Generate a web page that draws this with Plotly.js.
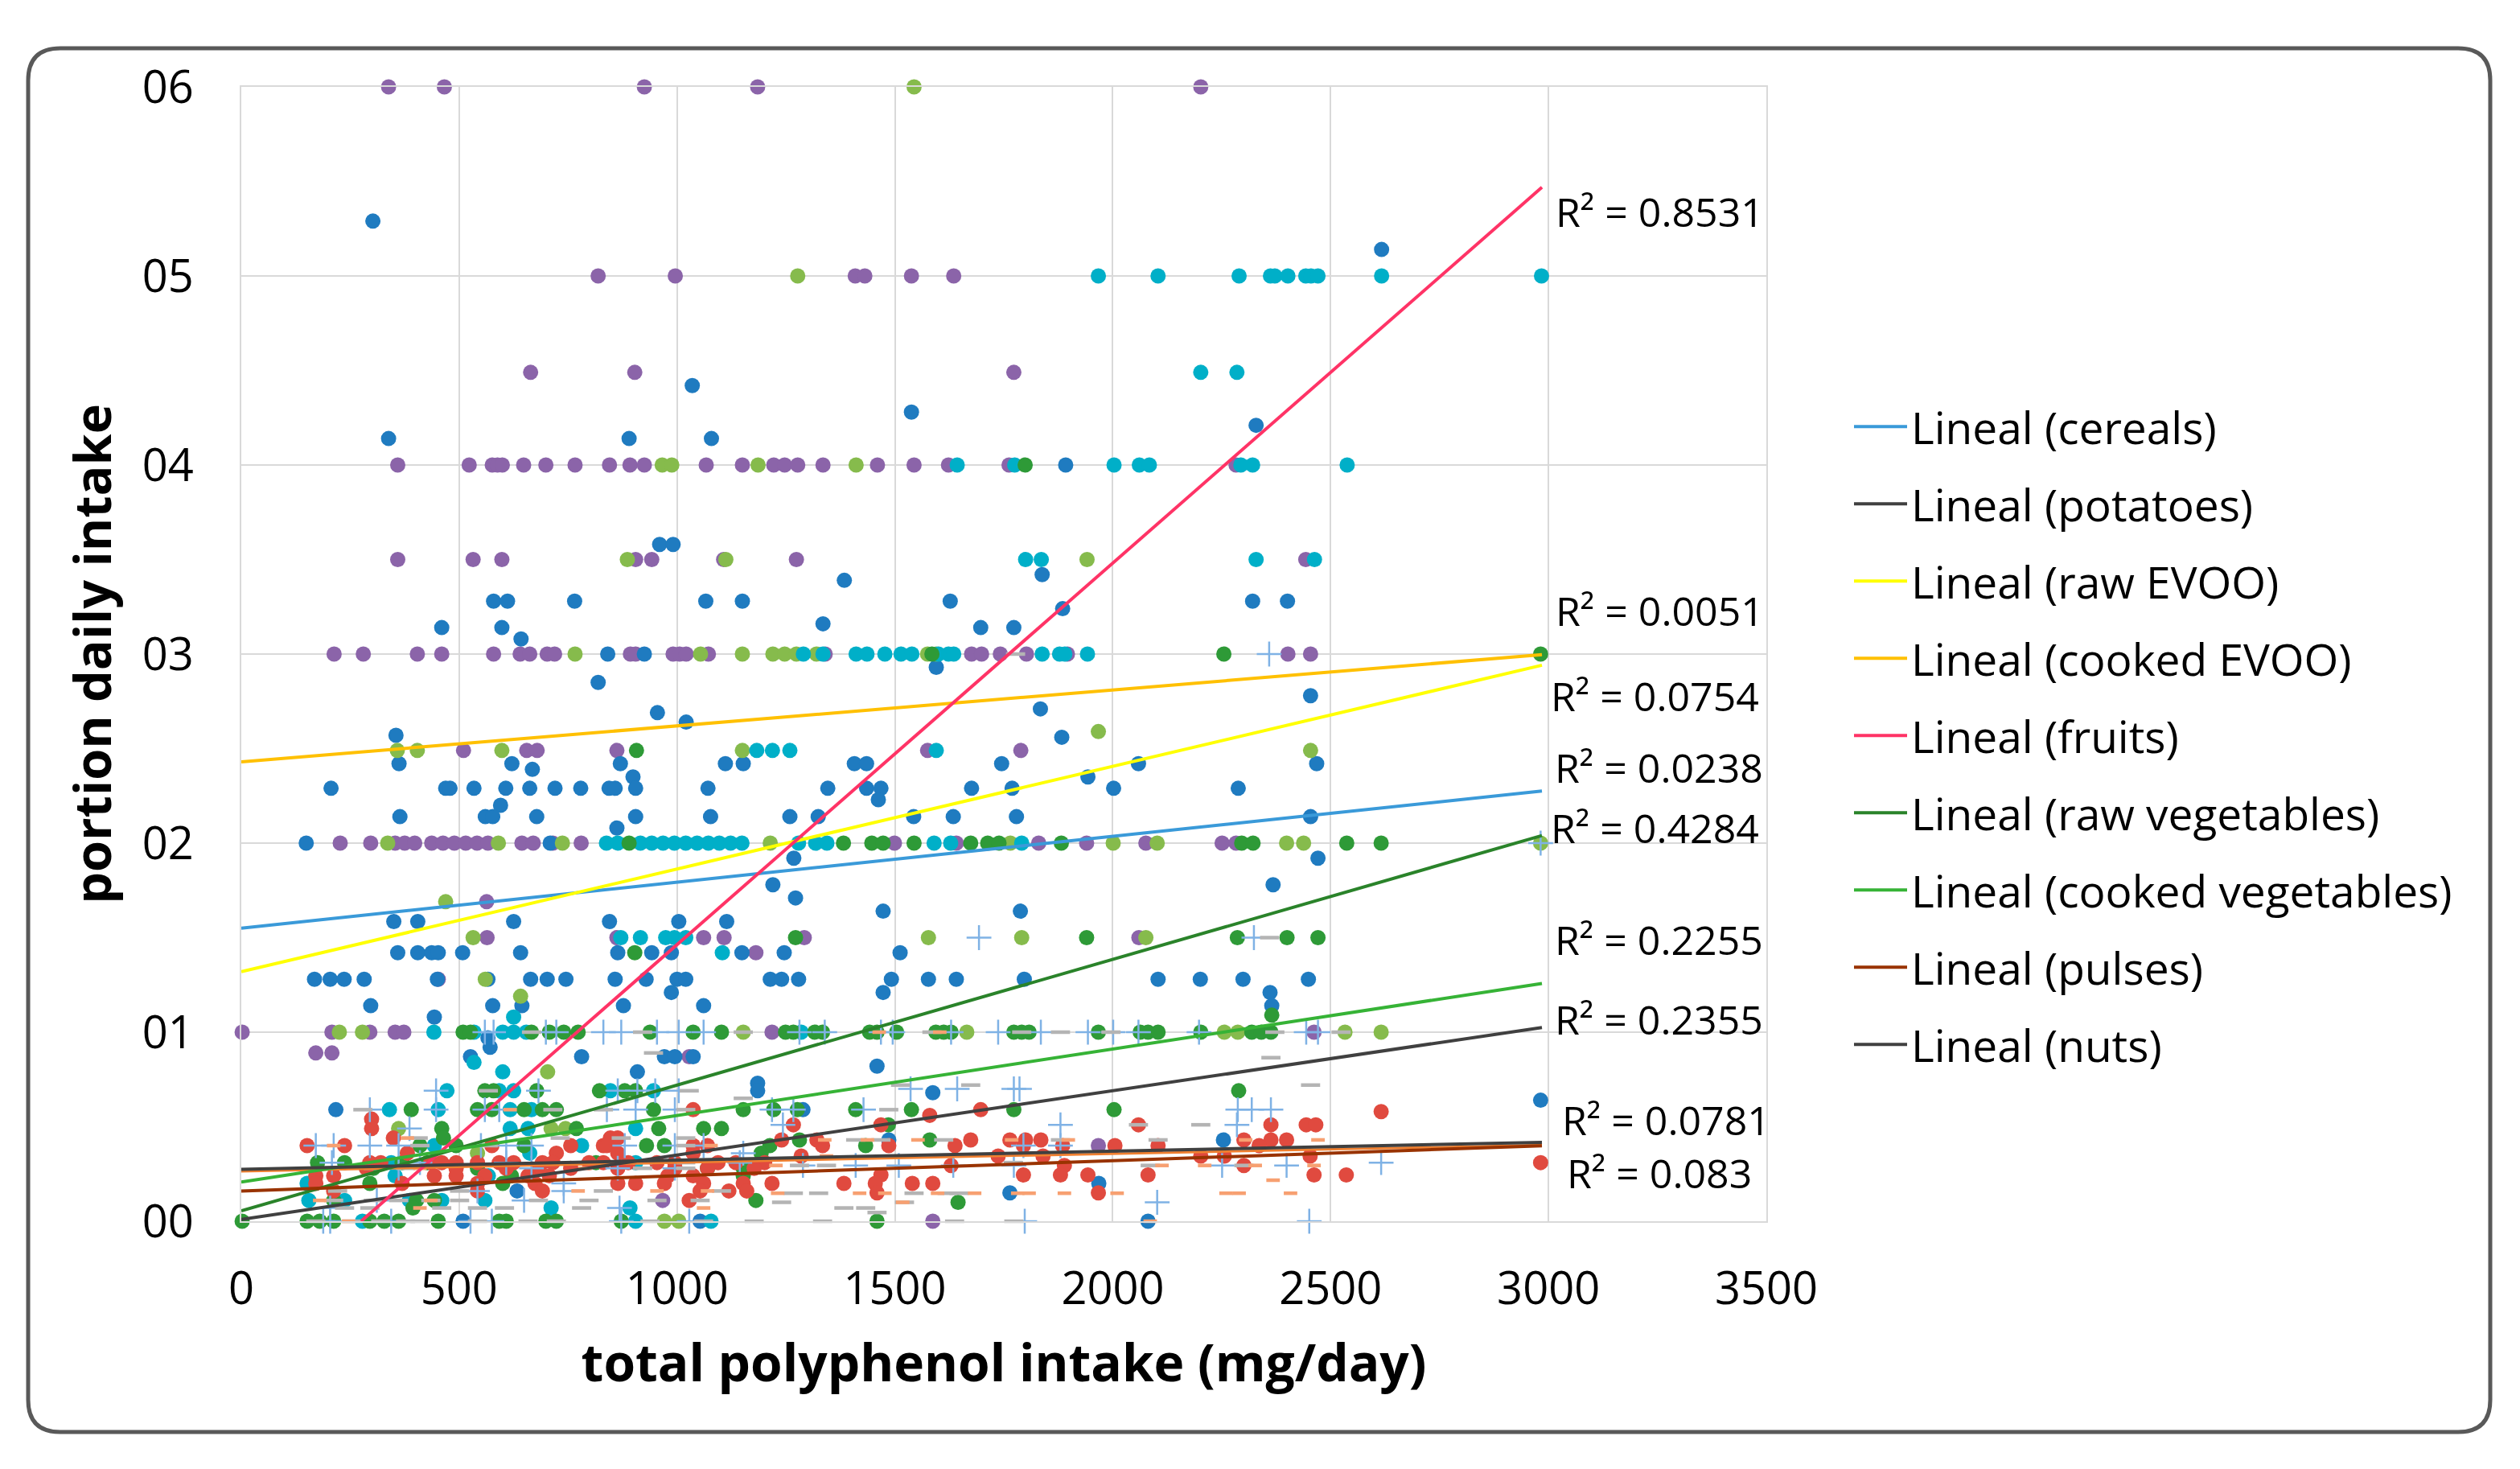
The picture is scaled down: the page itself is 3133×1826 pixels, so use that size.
<!DOCTYPE html>
<html>
<head>
<meta charset="utf-8">
<script src="https://cdn.plot.ly/plotly-3.0.1.min.js"></script>
<style>
  body { margin: 0; background: #fff; }
  #chart { width: 3133px; height: 1826px; }
</style>
</head>
<body>
<div id="chart"></div>
<script>
// each row: [portion value, [polyphenol intake values of the points on that row]]
var cerealRows = [
  [5.29, [302]], [5.14, [2617]], [4.42, [1035]], [4.28, [1538]], [4.21, [2329]],
  [4.14, [338, 890, 1079]], [4.0, [1892]], [3.58, [960, 991]], [3.42, [1838]], [3.39, [1384]],
  [3.28, [579, 611, 765, 1066, 1150, 1627, 2321, 2401]], [3.24, [1885]], [3.16, [1335]],
  [3.14, [460, 598, 1697, 1773]], [3.08, [642]], [3.0, [841, 925]], [2.93, [1595]], [2.85, [819]],
  [2.78, [2454]], [2.71, [1834]], [2.69, [955]], [2.64, [1021]], [2.57, [355]], [2.56, [1883]],
  [2.42, [362, 621, 870, 1111, 1152, 1407, 1435, 1745, 2059, 2468]], [2.39, [668]], [2.35, [899, 1943]],
  [2.29, [206, 469, 479, 534, 607, 662, 720, 779, 844, 858, 905, 1071, 1346, 1435, 1468, 1676, 1769, 2002, 2288]],
  [2.23, [1462]], [2.2, [595]],
  [2.14, [364, 560, 577, 678, 905, 1077, 1259, 1324, 1543, 1634, 1779, 2454]], [2.08, [862]],
  [2.0, [149, 709]], [1.92, [1268, 2471]], [1.78, [1220, 2368]], [1.71, [1272]], [1.64, [1473, 1788]],
  [1.585, [350, 405, 625, 845, 1004, 1114]],
  [1.42, [359, 405, 437, 452, 508, 641, 864, 942, 987, 1149, 1246, 1512]],
  [1.28, [168, 204, 236, 282, 450, 566, 664, 702, 745, 858, 929, 1000, 1020, 1214, 1240, 1279, 1492, 1577, 1641, 1797, 2104, 2201, 2299, 2449]],
  [1.21, [987, 1473, 2361]], [1.14, [297, 577, 644, 877, 1061, 2365]], [1.08, [443]],
  [0.97, [566]], [0.92, [571]], [0.87, [526, 781, 971, 995, 1037]], [0.82, [1459]], [0.79, [909]],
  [0.73, [1185]], [0.69, [1185]], [0.68, [1587]], [0.64, [2982]], [0.59, [217, 1289]],
  [0.43, [1486, 2254]], [0.2, [1968]], [0.16, [633]], [0.15, [1764]], [0, [509, 1053, 2081]]
];

var purpleRows = [
  [6, [338, 466, 925, 1185, 2202]], [5, [819, 996, 1409, 1431, 1538, 1635]], [4.49, [664, 903, 1773]],
  [4, [359, 523, 576, 588, 599, 648, 699, 766, 845, 892, 925, 1067, 1150, 1222, 1247, 1277, 1335, 1460, 1544, 1623, 1762, 2283]],
  [3.5, [359, 532, 598, 905, 942, 1107, 1274, 2443]],
  [3, [213, 280, 404, 460, 579, 640, 662, 702, 719, 893, 905, 991, 1006, 1021, 1072, 1340, 1676, 1699, 1742, 1802, 1896, 2402, 2454]],
  [2.49, [510, 655, 679, 862, 1575, 1789]],
  [2, [227, 297, 353, 375, 398, 437, 463, 489, 515, 541, 566, 644, 670, 715, 780, 1499, 1641, 1830, 1940, 2076, 2251, 2283]],
  [1.69, [563]], [1.5, [564, 862, 1061, 1108, 1292, 2060]], [1.42, [1181]], [1.28, [452]],
  [1, [2, 208, 295, 353, 373, 1218, 2462]], [0.89, [171, 208]], [0.87, [1028]],
  [0.4, [1967]], [0.11, [967]], [0, [1587]]
];

var cyanRows = [
  [5, [1967, 2104, 2290, 2362, 2372, 2402, 2443, 2455, 2471, 2617, 2984]], [4.49, [2202, 2285]],
  [4, [1643, 1775, 2003, 2061, 2084, 2294, 2321, 2538]], [3.5, [1800, 1836, 2329, 2463]],
  [3, [1290, 1335, 1411, 1436, 1477, 1514, 1539, 1600, 1623, 1635, 1838, 1878, 1890, 1942]],
  [2.49, [1183, 1219, 1259, 1595]],
  [2, [838, 864, 916, 942, 968, 994, 1020, 1046, 1072, 1097, 1123, 1149, 1279, 1318, 1344, 1590, 1628, 1791]],
  [1.5, [871, 916, 974, 994, 1020]], [1.42, [1104]], [1.08, [625]],
  [1, [442, 534, 600, 625, 654, 1285]], [0.84, [534]], [0.79, [600]],
  [0.69, [472, 592, 625, 847, 946]], [0.59, [340, 452, 617, 666]], [0.49, [617, 658, 905]],
  [0.4, [443, 781]], [0.36, [662]], [0.31, [344, 905]], [0.24, [353, 567]], [0.2, [151]],
  [0.11, [155, 237, 386, 460, 559]], [0.07, [711, 892]], [0, [278, 905, 1078]]
];

var lightGreenRows = [
  [6, [1544]], [5, [1277]], [4, [966, 988, 1186, 1411]], [3.5, [886, 1112, 1941]],
  [3, [766, 1054, 1150, 1220, 1247, 1274, 1320, 1575, 1595]], [2.59, [1967]],
  [2.49, [358, 404, 598, 1150, 2454]],
  [2, [336, 590, 737, 1214, 1765, 2001, 2102, 2399, 2438, 2982]],
  [1.69, [469]], [1.5, [532, 1577, 1791, 2076]], [1.28, [560]], [1.19, [641]],
  [1, [225, 278, 1152, 1665, 2256, 2287, 2533, 2616]], [0.79, [703]],
  [0.49, [361, 711, 744]], [0.36, [542]], [0, [971, 1004]]
];

var darkGreenRows = [
  [4, [1799]], [3, [1585, 2255, 2982]], [2.49, [907]],
  [2, [890, 1382, 1447, 1473, 1544, 1674, 1713, 1739, 1882, 2296, 2322, 2537, 2616]],
  [1.5, [1272, 1940, 2286, 2400, 2471]], [1.42, [903]], [1.09, [2365]],
  [1, [509, 526, 666, 707, 740, 773, 938, 1037, 1102, 1249, 1267, 1316, 1334, 1442, 1459, 1504, 1594, 1612, 1629, 1773, 1791, 1808, 1967, 2063, 2081, 2104, 2202, 2319, 2341, 2363]],
  [0.69, [559, 579, 678, 822, 880, 905, 2289]],
  [0.59, [390, 542, 575, 649, 691, 723, 946, 1152, 1222, 1276, 1410, 1538, 1773, 2003]],
  [0.51, [1485]], [0.49, [460, 769, 958, 1061, 1102]], [0.44, [464]], [0.43, [1281, 1580]],
  [0.4, [410, 493, 649, 930, 971, 1213, 1433]], [0.36, [1193]], [0.31, [175, 237, 369, 427, 814]],
  [0.28, [303, 542, 1070, 1152]], [0.24, [620, 1152]], [0.2, [295, 600]],
  [0.11, [212, 402, 443, 1181]], [0.1, [1645]], [0.07, [394]],
  [0, [2, 151, 180, 212, 295, 328, 361, 452, 592, 608, 699, 723, 872, 1459]]
];

var redRows = [
  [0.59, [1037, 1697]], [0.58, [2616]], [0.56, [1580]], [0.54, [299]],
  [0.51, [1267, 1468, 2059, 2363, 2444, 2466]], [0.49, [299]], [0.44, [349, 847, 864]],
  [0.43, [1240, 1321, 1674, 1764, 1800, 1835, 2301, 2363, 2399]],
  [0.4, [151, 237, 575, 756, 831, 839, 1037, 1070, 1334, 1486, 1638, 1795, 1885, 2005, 2104, 2336]],
  [0.36, [381, 723, 864, 1037]], [0.345, [1285, 1737, 1840, 2202, 2256, 2453]],
  [0.31, [295, 320, 435, 460, 493, 542, 592, 625, 691, 715, 798, 831, 888, 954, 995, 1094, 1135, 1201, 2982]],
  [0.295, [1629, 1889, 2301]],
  [0.28, [287, 493, 608, 682, 756, 864, 995, 1070, 1177]],
  [0.245, [1468, 1795, 1880, 1943, 2081, 2462, 2536]],
  [0.24, [171, 212, 443, 493, 559, 658, 707, 979, 1037]],
  [0.2, [171, 369, 542, 674, 864, 905, 971, 1061, 1152, 1218, 1383, 1455, 1540, 1587]],
  [0.16, [212, 542, 691, 1053, 1119, 1160]], [0.15, [1459, 1967]], [0.11, [1028]]
];

var crossRows = [
  [3, [2359]], [2, [2982]], [1.5, [1693, 2324]],
  [1, [559, 579, 699, 723, 831, 872, 954, 1004, 1061, 1281, 1339, 1468, 1495, 1629, 1737, 1835, 1943, 2001, 2059, 2198, 2444, 2471]],
  [0.7, [1536, 1643, 1773, 1786]], [0.69, [447, 682, 864, 909, 950, 1004]],
  [0.59, [295, 447, 559, 592, 839, 905, 995, 1218, 1267, 1428, 2287, 2319, 2363]],
  [0.51, [1243, 1880, 2285]], [0.49, [386]],
  [0.4, [171, 212, 295, 361, 550, 608, 666, 880, 995, 1061, 1795, 1880]],
  [0.36, [1152]], [0.31, [208, 410, 608, 1144, 2616]],
  [0.295, [1289, 1410, 1509, 1634, 1773, 2251, 2399]], [0.28, [361, 666, 864, 995]],
  [0.2, [740]], [0.16, [542, 740]], [0.11, [311, 649]], [0.1, [2102]], [0.07, [204, 868]],
  [0, [188, 204, 344, 526, 575, 872, 1028, 1798, 2451]]
];

var grayDashRows = [
  [3, [1777]], [1.5, [2360]], [1, [666, 921, 1152, 1585, 1791, 1880, 1996, 2372, 2524]],
  [0.89, [946]], [0.865, [2363]], [0.72, [1513, 1674, 2454]], [0.69, [567, 1028]], [0.65, [1152]],
  [0.59, [279, 715, 831, 1020, 1486]], [0.51, [2059, 2202]], [0.44, [406, 732, 872, 1020]],
  [0.43, [1410, 1468, 1612, 1880, 2104]], [0.4, [410, 567, 1020]], [0.31, [831, 921, 1020, 1772]],
  [0.295, [1281, 1343, 2086, 2301]], [0.28, [303, 377, 921, 1020]], [0.16, [221, 501, 831, 1102]],
  [0.148, [1267, 1325, 1544, 1620, 1647]], [0.11, [212, 303, 361, 435, 501, 682, 798, 954, 1053]],
  [0.1, [1240, 1522]], [0.07, [237, 295, 460, 542, 604, 781, 1383, 1433]], [0.046, [1459]],
  [0, [171, 254, 320, 377, 410, 542, 658, 723, 938, 1061, 1177, 1334, 1637, 1773]]
];

var orangeDashRows = [
  [1, [1464, 1603]], [0.59, [617]], [0.44, [381]],
  [0.43, [1339, 1437, 1553, 1768, 1898, 2305, 2471]], [0.4, [212, 1078]], [0.345, [1343]],
  [0.295, [1227, 2113, 2211, 2327, 2462]], [0.28, [410, 789]], [0.217, [2368]],
  [0.16, [773, 954, 1070]],
  [0.148, [1231, 1419, 1477, 1598, 1683, 1782, 1808, 1889, 2010, 2260, 2290, 2408]],
  [0.11, [180, 435]], [0.1, [1518]], [0.07, [410, 1061]], [0, [246, 2086]]
];

// linear trend lines (Excel "Lineal")
var trendNames = ["Lineal (cereals)", "Lineal (potatoes)", "Lineal (raw EVOO)", "Lineal (cooked EVOO)",
  "Lineal (fruits)", "Lineal (raw vegetables)", "Lineal (cooked vegetables)", "Lineal (pulses)", "Lineal (nuts)"];
var trendIntercept = [1.55, 0.01, 1.32, 2.43, -0.555, 0.055, 0.207, 0.16, 0.275];
var trendSlope = [0.000243, 0.00034, 0.000543, 0.00019, 0.002018, 0.000665, 0.000352, 0.00008, 0.0000477];
var trendColors = ["#3A9AD9", "#404040", "#FFFF00", "#FFC000", "#FF3366", "#2A832A", "#36B336", "#993300", "#404040"];
var trendXMax = 2985;

var r2Text = ["R² = 0.8531", "R² = 0.0051", "R² = 0.0754", "R² = 0.0238", "R² = 0.4284",
  "R² = 0.2255", "R² = 0.2355", "R² = 0.0781", "R² = 0.083"];
var r2X = [3013, 3013, 3002, 3010, 3002, 3010, 3010, 3028, 3039];
var r2Y = [5.34, 3.23, 2.78, 2.40, 2.08, 1.49, 1.07, 0.536, 0.255];

var xTicks = [0, 500, 1000, 1500, 2000, 2500, 3000, 3500];
var yTicks = [0, 1, 2, 3, 4, 5, 6];
var yTickText = ["00", "01", "02", "03", "04", "05", "06"];

function flatten(rows){
    var xs = [], ys = [];
    for (let row of rows){
        for (let x of row[1]){
            xs.push(x);
            ys.push(row[0]);
        }
    }
    return {x: xs, y: ys};
}

function dots(rows, color){
    var p = flatten(rows);
    return {
        x: p.x, y: p.y, type: 'scatter', mode: 'markers', showlegend: false,
        cliponaxis: false, hoverinfo: 'skip',
        marker: {color: color, size: 19, line: {width: 0}}
    };
}

function ticks(rows, color, symbol, size, width){
    var p = flatten(rows);
    return {
        x: p.x, y: p.y, type: 'scatter', mode: 'markers', showlegend: false,
        cliponaxis: false, hoverinfo: 'skip',
        marker: {symbol: symbol, size: size, color: color, line: {color: color, width: width}}
    };
}

var data = [
    dots(purpleRows, '#8B64A9'),
    dots(cerealRows, '#1F7BC0'),
    dots(lightGreenRows, '#86BB4C'),
    dots(cyanRows, '#00AFC8'),
    dots(darkGreenRows, '#2E9A37'),
    dots(redRows, '#E04A3F'),
    ticks(crossRows, '#7FB2E5', 'cross-thin-open', 22, 2.5),
    ticks(grayDashRows, '#B4B4B4', 'line-ew-open', 17, 4.5),
    ticks(orangeDashRows, '#F7A071', 'line-ew-open', 12, 4.5)
];

// faint orange trend under the nuts line (not in legend)
data.push({
    x: [0, trendXMax], y: [0.264, 0.264 + 0.0000465 * trendXMax],
    type: 'scatter', mode: 'lines', showlegend: false, hoverinfo: 'skip',
    line: {color: '#F08030', width: 3}
});

for (let i = 0; i < trendNames.length; i++){
    let a = trendIntercept[i], b = trendSlope[i];
    let x0 = Math.max(0, -a / b);
    data.push({
        x: [x0, trendXMax], y: [a + b * x0, a + b * trendXMax],
        type: 'scatter', mode: 'lines', name: trendNames[i],
        legendgroup: 'g' + i, hoverinfo: 'skip', cliponaxis: false,
        line: {color: trendColors[i], width: 4}
    });
}

var annotations = [];
for (let i = 0; i < r2Text.length; i++){
    annotations.push({
        x: r2X[i], y: r2Y[i], xref: 'x', yref: 'y', text: r2Text[i],
        showarrow: false, xanchor: 'left', yanchor: 'middle',
        font: {family: 'Open Sans', size: 50, color: '#000'}
    });
}

// rounded outer frame, given in pixels and turned into paper units
var plotL = 300, plotR = 2196, plotT = 108, plotB = 1518;
function px(v){ return (v - plotL) / (plotR - plotL); }
function py(v){ return (plotB - v) / (plotB - plotT); }
var fL = 35, fR = 3096, fT = 60, fB = 1780, rad = 40;
var framePath = 'M' + px(fL + rad) + ',' + py(fT) +
    ' L' + px(fR - rad) + ',' + py(fT) +
    ' Q' + px(fR) + ',' + py(fT) + ' ' + px(fR) + ',' + py(fT + rad) +
    ' L' + px(fR) + ',' + py(fB - rad) +
    ' Q' + px(fR) + ',' + py(fB) + ' ' + px(fR - rad) + ',' + py(fB) +
    ' L' + px(fL + rad) + ',' + py(fB) +
    ' Q' + px(fL) + ',' + py(fB) + ' ' + px(fL) + ',' + py(fB - rad) +
    ' L' + px(fL) + ',' + py(fT + rad) +
    ' Q' + px(fL) + ',' + py(fT) + ' ' + px(fL + rad) + ',' + py(fT) + ' Z';

var layout = {
    width: 3133, height: 1826,
    margin: {l: plotL, r: 3133 - plotR, t: plotT, b: 1826 - plotB, pad: 0},
    paper_bgcolor: '#FFFFFF', plot_bgcolor: '#FFFFFF',
    font: {family: 'Open Sans', color: '#000'},
    showlegend: true,
    xaxis: {
        range: [0, 3500], tickvals: xTicks, ticks: '',
        showgrid: true, gridcolor: '#D9D9D9', gridwidth: 2, zeroline: false,
        showline: true, linecolor: '#D9D9D9', linewidth: 2, mirror: true,
        tickfont: {family: 'Open Sans', size: 56, color: '#000'},
        ticklabelstandoff: 34,
        title: {text: 'total polyphenol intake (mg/day)', standoff: 36,
                font: {family: 'Open Sans', size: 64, weight: 700, color: '#000'}}
    },
    yaxis: {
        range: [0, 6], tickvals: yTicks, ticktext: yTickText, ticks: '',
        showgrid: true, gridcolor: '#D9D9D9', gridwidth: 2, zeroline: false,
        showline: true, linecolor: '#D9D9D9', linewidth: 2, mirror: true,
        tickfont: {family: 'Open Sans', size: 56, color: '#000'},
        ticklabelstandoff: 46,
        title: {text: 'portion daily intake', standoff: 18,
                font: {family: 'Open Sans', size: 63, weight: 700, color: '#000'}}
    },
    legend: {
        x: px(2300), xanchor: 'left', y: py(488), yanchor: 'top',
        traceorder: 'grouped', tracegroupgap: 21.5, itemwidth: 66,
        bgcolor: 'rgba(0,0,0,0)', borderwidth: 0,
        font: {family: 'Open Sans', size: 55, color: '#000'}
    },
    annotations: annotations,
    shapes: [{
        type: 'path', xref: 'paper', yref: 'paper', path: framePath,
        line: {color: '#595959', width: 5}, fillcolor: 'rgba(0,0,0,0)'
    }]
};

Plotly.newPlot('chart', data, layout, {displayModeBar: false, staticPlot: true});
</script>
</body>
</html>
